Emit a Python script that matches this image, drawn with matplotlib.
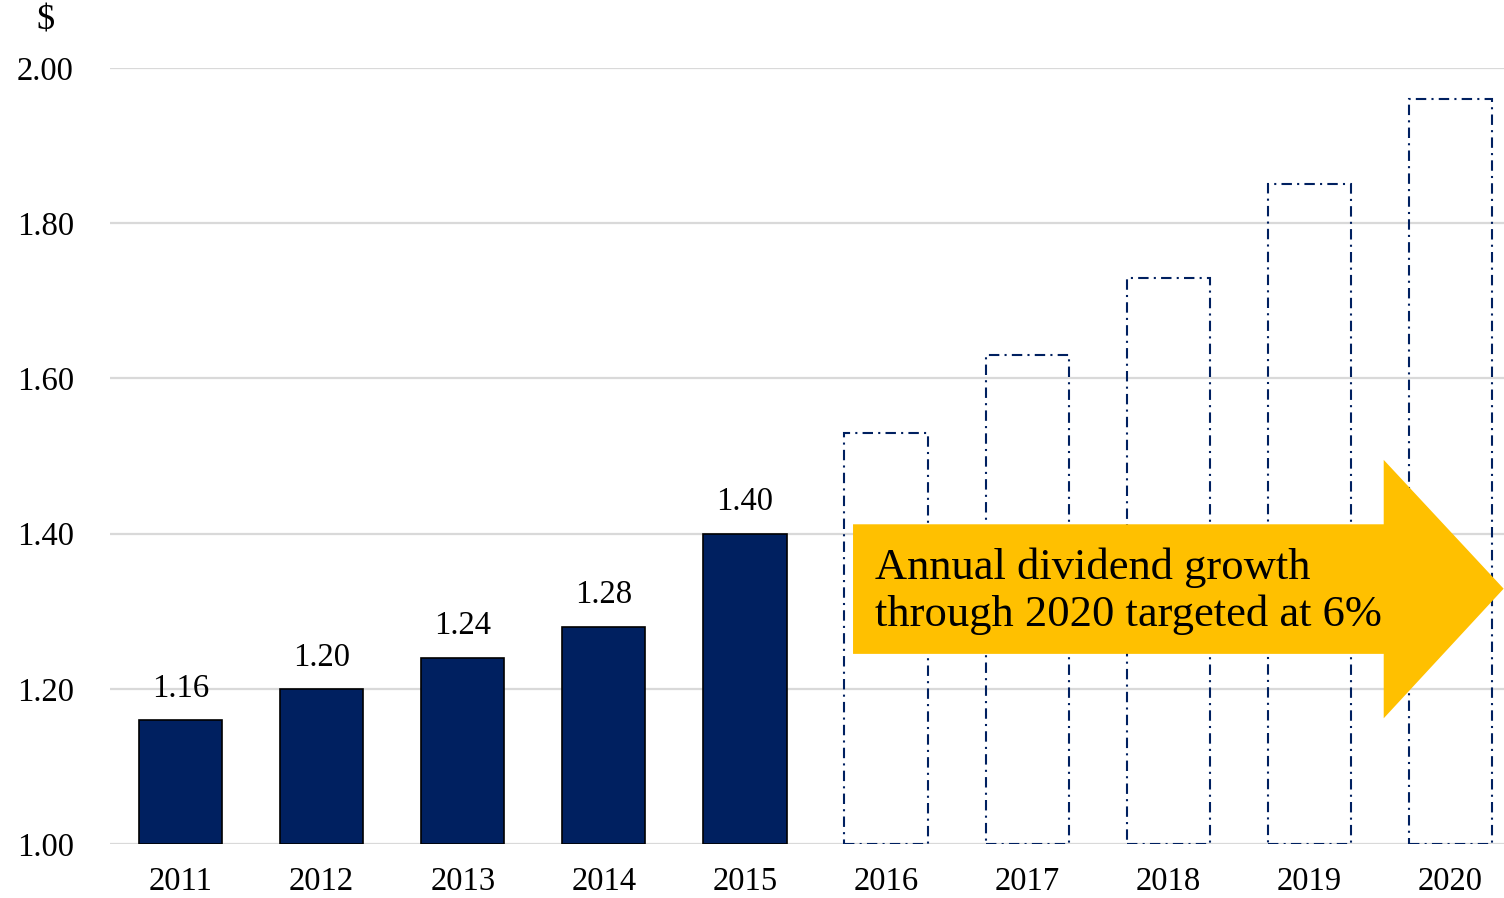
import matplotlib
matplotlib.use("Agg")
import matplotlib.pyplot as plt
from matplotlib.patches import Polygon

# Dividend per share, actual and projected
years = ['2011', '2012', '2013', '2014', '2015', '2016', '2017', '2018', '2019', '2020']
actual = [1.16, 1.20, 1.24, 1.28, 1.40]
projected = [1.53, 1.63, 1.73, 1.85, 1.96]
actual_labels = ['1.16', '1.20', '1.24', '1.28', '1.40']
yticks = [1.00, 1.20, 1.40, 1.60, 1.80, 2.00]

navy = '#002060'
plt.rcParams['font.family'] = ['Liberation Serif', 'DejaVu Serif']

fig = plt.figure(figsize=(15.04, 8.98), dpi=100)
ax = fig.add_axes([110 / 1504, 54 / 898, 1411 / 1504, 776 / 898])

base = 1.0
n_act = len(actual)
x_act = list(range(n_act))
x_proj = list(range(n_act, len(years)))

ax.bar(x_act, [v - base for v in actual], bottom=base, width=0.59,
       color=navy, edgecolor='black', linewidth=1.2, zorder=3)
ax.bar(x_proj, [v - base for v in projected], bottom=base, width=0.59,
       facecolor='none', edgecolor=navy, linewidth=1.5,
       linestyle=(0, (5, 2.5, 1, 2.5)), zorder=3)

# value labels above the actual bars
for x, v, lab in zip(x_act, actual, actual_labels):
    ax.text(x, v + 0.021, lab, ha='center', va='bottom', fontsize=23.5)

ax.set_xlim(-0.5, len(years) - 0.5)
ax.set_ylim(1.0, 2.0)
ax.set_xticks(range(len(years)))
ax.set_xticklabels(years)
ax.set_yticks(yticks)
ax.set_yticklabels([f'{t:.2f}' for t in yticks])
ax.tick_params(axis='both', length=0, labelsize=23.5)
ax.tick_params(axis='y', pad=26)
ax.tick_params(axis='x', pad=16)
for s in ax.spines.values():
    s.set_visible(False)
ax.grid(axis='y', color='#d9d9d9', linewidth=1.6, zorder=0)
ax.set_axisbelow(True)

# growth arrow
arrow = Polygon([(4.766, 1.245), (4.766, 1.412), (8.527, 1.412), (8.527, 1.495),
                 (9.377, 1.329), (8.527, 1.162), (8.527, 1.245)],
                closed=True, facecolor='#FFC000', edgecolor='none', zorder=5)
ax.add_patch(arrow)
ax.text(4.92, 1.326, 'Annual dividend growth\nthrough 2020 targeted at 6%',
        ha='left', va='center', fontsize=32, linespacing=1.2, zorder=6)

fig.text(45 / 1504, 1 - 21 / 898, '$', ha='center', va='center', fontsize=26)

fig.savefig('out.png', dpi=100)
